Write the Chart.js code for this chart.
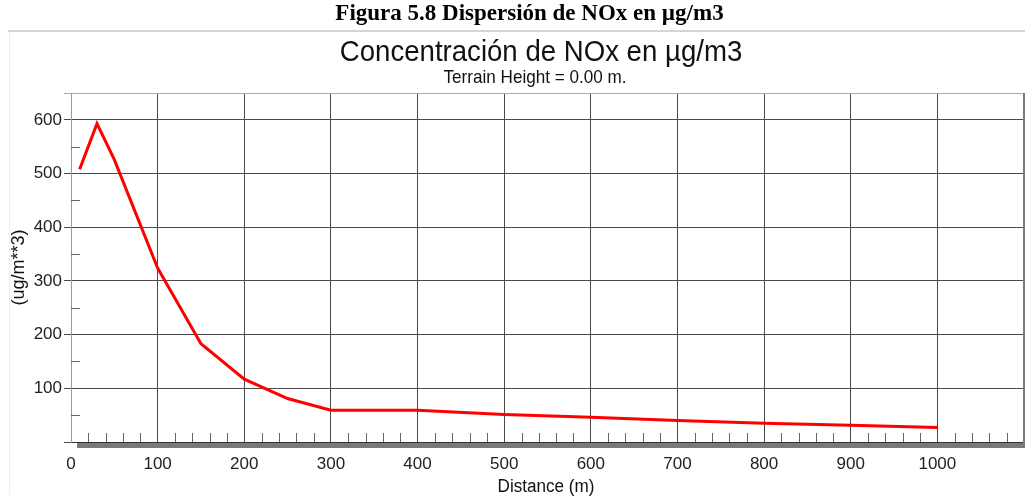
<!DOCTYPE html>
<html>
<head>
<meta charset="utf-8">
<script src="https://cdn.jsdelivr.net/npm/chart.js@4/dist/chart.umd.min.js"></script>
<style>
  html, body { margin: 0; padding: 0; background: #fff; }
  #wrap { position: relative; width: 1025px; height: 503px; overflow: hidden; }
  #caption {
    position: absolute; left: 17px; top: 0px; width: 1025px; text-align: center;
    font: bold 23px "Liberation Serif", "Times New Roman", serif; color: #000;
  }
  canvas { position: absolute; left: 0; top: 0; }
</style>
</head>
<body>
<div id="wrap">
  <canvas id="chart" width="1025" height="503"></canvas>
  <div id="caption">Figura 5.8 Dispersión de NOx en µg/m3</div>
</div>
<script>
// values
const distances = [10, 30, 50, 100, 150, 200, 250, 300, 400, 500, 600, 700, 800, 900, 1000];
const concentrations = [508, 593, 526, 324, 183, 117, 81, 59, 59, 51, 46, 40, 35, 31, 27];

const chartTitle = 'Concentración de NOx en µg/m3';
const chartSubtitle = 'Terrain Height = 0.00 m.';
const xTitle = 'Distance (m)';
const yTitle = '(ug/m**3)';

const FONT = '"Liberation Sans", Arial, sans-serif';

// condensed text helper
function drawText(ctx, text, x, y, size, sx, rot) {
  ctx.save();
  ctx.translate(x, y);
  if (rot) ctx.rotate(rot);
  ctx.scale(sx, 1);
  ctx.font = size + 'px ' + FONT;
  ctx.fillStyle = '#111';
  ctx.textAlign = 'center';
  ctx.textBaseline = 'alphabetic';
  ctx.fillText(text, 0, 0);
  ctx.restore();
}

const decor = {
  id: 'decor',
  beforeDraw(chart) {
    const ctx = chart.ctx;
    ctx.save();
    ctx.fillStyle = '#fff';
    ctx.fillRect(0, 0, chart.width, chart.height);
    // page frame
    ctx.strokeStyle = '#d4d4d4';
    ctx.lineWidth = 2;
    ctx.beginPath();
    ctx.moveTo(8, 31);
    ctx.lineTo(1025, 31);
    ctx.stroke();
    ctx.strokeStyle = '#eeeeee';
    ctx.lineWidth = 1;
    ctx.beginPath();
    ctx.moveTo(9.5, 32);
    ctx.lineTo(9.5, 495);
    ctx.stroke();
    ctx.restore();
  },
  afterDraw(chart) {
    const ctx = chart.ctx;
    const x = chart.scales.x, y = chart.scales.y;
    const a = chart.chartArea;
    ctx.save();
    ctx.strokeStyle = '#666';
    ctx.lineWidth = 1;
    // y minor ticks
    for (let v = 50; v < 650; v += 100) {
      const py = Math.round(y.getPixelForValue(v)) + 0.5;
      ctx.beginPath();
      ctx.moveTo(a.left, py);
      ctx.lineTo(a.left + 9, py);
      ctx.stroke();
    }
    // x minor ticks
    for (let v = 20; v < 1100; v += 20) {
      if (v % 100 === 0) continue;
      const px = Math.round(x.getPixelForValue(v)) + 0.5;
      ctx.beginPath();
      ctx.moveTo(px, a.bottom);
      ctx.lineTo(px, a.bottom - 9);
      ctx.stroke();
    }
    // shadow bar along the x axis
    ctx.fillStyle = '#7a7a7a';
    ctx.fillRect(a.left + 6, a.bottom + 1, a.right - a.left - 5, 5);
    ctx.fillRect(a.right - 1, a.top, 2, a.bottom - a.top + 6);
    ctx.restore();

    drawText(ctx, chartTitle, 541, 61, 30, 0.92);
    drawText(ctx, chartSubtitle, 535, 83, 19, 0.9);
    drawText(ctx, xTitle, 546, 492, 18, 0.95);
    drawText(ctx, yTitle, 24, (a.top + a.bottom) / 2, 19, 0.95, -Math.PI / 2);
  }
};

new Chart(document.getElementById('chart'), {
  type: 'line',
  data: {
    datasets: [{
      data: distances.map((d, i) => ({ x: d, y: concentrations[i] })),
      borderColor: '#ff0000',
      borderWidth: 3,
      pointRadius: 0,
      tension: 0,
      fill: false
    }]
  },
  options: {
    responsive: false,
    animation: false,
    layout: { padding: { top: 93, left: 0, right: 1, bottom: 0 } },
    plugins: { legend: { display: false }, tooltip: { enabled: false } },
    scales: {
      x: {
        type: 'linear',
        min: 0,
        max: 1100,
        afterFit(s) { s.height = 61; s.paddingLeft = 0; s.paddingRight = 0; },
        ticks: {
          stepSize: 100,
          padding: 12,
          color: '#222',
          font: { family: FONT, size: 17 },
          maxRotation: 0,
          callback: v => (v === 1100 ? '' : v)
        },
        grid: {
          drawTicks: false,
          color: c => (c.tick && c.tick.value === 1100 ? '#777' : '#4a4a4a'),
          lineWidth: 1
        },
        border: { color: '#333', width: 1 }
      },
      y: {
        min: 0,
        max: 650,
        afterFit(s) { s.width = 71; s.paddingTop = 0; s.paddingBottom = 0; },
        ticks: {
          stepSize: 100,
          padding: 2,
          color: '#222',
          font: { family: FONT, size: 17 },
          callback: v => (v === 0 || v === 650 ? '' : v)
        },
        grid: {
          tickLength: 7,
          color: c => (c.tick && c.tick.value === 650 ? '#aaa' : '#4a4a4a'),
          lineWidth: 1
        },
        border: { color: '#999', width: 1 }
      }
    }
  },
  plugins: [decor]
});
</script>
</body>
</html>
